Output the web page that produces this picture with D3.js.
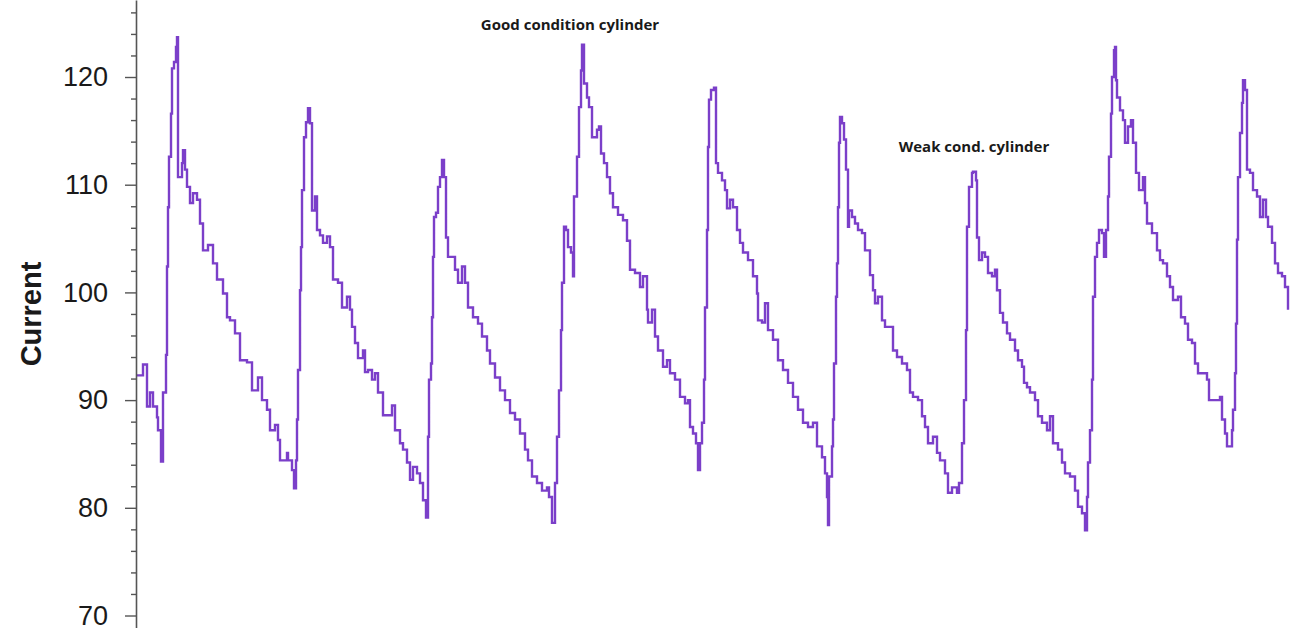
<!DOCTYPE html>
<html>
<head>
<meta charset="utf-8">
<script src="https://cdn.jsdelivr.net/npm/d3@7"></script>
<style>
  html, body { margin: 0; padding: 0; background: #fff; }
  svg { display: block; }
</style>
</head>
<body>
<svg id="chart" width="1293" height="628"></svg>
<script>
// Motor current trace over eight compression strokes (sample index vs current)
const sampleIndex = [
  0, 6, 10, 13, 16, 20, 21, 24, 26, 29, 30, 31, 32, 34, 35, 37, 39, 40, 41, 41,
  45, 46, 48, 50, 53, 56, 60, 63, 66, 71, 76, 80, 86, 90, 93, 98, 103, 110, 115, 121,
  125, 130, 133, 138, 141, 143, 150, 151, 155, 157, 159, 160, 161, 163, 164, 165, 167, 169, 171, 173,
  175, 175, 178, 180, 183, 186, 190, 193, 196, 201, 205, 210, 213, 215, 218, 221, 226, 228, 231, 235,
  238, 241, 246, 255, 258, 263, 266, 270, 273, 276, 280, 283, 286, 289, 291, 292, 294, 295, 296, 297,
  299, 301, 303, 305, 307, 309, 311, 315, 318, 321, 325, 328, 331, 336, 341, 345, 350, 353, 358, 363,
  368, 373, 378, 383, 388, 391, 395, 400, 405, 410, 412, 415, 418, 420, 422, 424, 425, 427, 429, 431,
  434, 436, 437, 440, 442, 444, 445, 447, 450, 452, 455, 460, 462, 464, 467, 470, 473, 476, 481, 486,
  490, 493, 498, 503, 506, 510, 511, 515, 518, 521, 526, 530, 533, 538, 543, 548, 551, 553, 556, 559,
  561, 563, 565, 567, 568, 570, 571, 572, 574, 577, 579, 581, 585, 588, 590, 593, 596, 600, 603, 606,
  611, 616, 620, 621, 625, 628, 631, 636, 641, 646, 651, 656, 661, 666, 671, 676, 680, 685, 688, 690,
  691, 692, 695, 696, 697, 699, 700, 701, 702, 703, 705, 707, 709, 711, 712, 715, 718, 721, 725, 728,
  733, 736, 738, 741, 745, 748, 753, 756, 760, 765, 770, 773, 776, 781, 785, 788, 791, 796, 800, 803,
  808, 811, 815, 820, 822, 825, 827, 829, 830, 832, 835, 836, 839, 840, 842, 845, 848, 851, 855, 858,
  860, 863, 866, 870, 873, 878, 881, 885, 887, 890, 893, 898, 901, 905, 910, 913, 916, 921, 925, 928,
  933, 938, 941, 945, 948, 950, 951, 953, 955, 956, 958, 960, 962, 965, 967, 969, 971, 972, 974, 975,
  977, 978, 979, 980, 983, 986, 988, 991, 994, 996, 999, 1002, 1006, 1008, 1010, 1015, 1018, 1020, 1023, 1026,
  1030, 1033, 1036, 1041, 1044, 1048, 1051, 1055, 1058, 1061, 1066, 1070, 1072, 1078, 1083, 1085, 1088, 1090, 1093, 1095,
  1096, 1098, 1099, 1100, 1101, 1103, 1105, 1106, 1108, 1110, 1110, 1113, 1116, 1120, 1123, 1126, 1129, 1131, 1135, 1138,
  1141, 1145, 1148, 1151
];

const current = [
  92.3, 93.3, 89.4, 90.7, 89.4, 88.4, 87.2, 84.3, 90.7, 94.2, 102.4, 107.9, 112.6, 116.6, 120.8, 121.4, 122.8, 123.7, 119.4, 110.7,
  112.0, 113.2, 111.4, 109.8, 108.3, 109.2, 108.6, 106.4, 103.9, 104.4, 102.7, 101.2, 99.9, 97.7, 97.4, 96.2, 93.7, 93.5, 90.9, 92.1,
  90.0, 89.1, 87.2, 87.7, 86.3, 84.4, 85.1, 84.4, 83.5, 81.8, 84.4, 88.2, 92.8, 100.2, 104.2, 109.5, 114.4, 115.8, 117.1, 115.7,
  112.6, 107.6, 108.9, 105.8, 105.3, 104.6, 105.2, 104.2, 101.2, 100.9, 98.6, 99.6, 98.4, 96.8, 95.3, 93.9, 94.6, 92.6, 92.8, 91.9,
  92.5, 90.7, 88.6, 89.5, 87.2, 86.0, 85.4, 84.2, 82.6, 83.8, 83.2, 82.3, 80.7, 79.1, 86.6, 91.9, 93.4, 97.7, 103.3, 107.0,
  107.4, 109.8, 110.7, 112.3, 110.7, 105.1, 103.3, 103.3, 102.1, 100.9, 102.4, 100.9, 98.6, 97.7, 97.1, 95.9, 94.6, 93.4, 92.1, 90.9,
  90.0, 88.8, 88.2, 86.9, 85.4, 84.4, 82.9, 82.3, 81.6, 81.9, 81.0, 78.6, 82.3, 86.6, 90.9, 96.5, 100.9, 106.1, 105.8, 104.2,
  103.7, 101.5, 108.9, 112.6, 117.2, 120.6, 123.0, 119.4, 118.1, 117.2, 114.4, 115.1, 115.4, 112.9, 112.0, 110.7, 109.2, 107.9, 107.2, 106.7,
  104.8, 102.1, 101.8, 100.5, 101.5, 98.4, 97.2, 98.4, 95.9, 94.6, 93.1, 93.7, 92.5, 91.9, 90.3, 89.7, 90.0, 87.5, 86.9, 86.0,
  83.5, 86.0, 87.9, 91.9, 98.6, 105.8, 113.5, 117.9, 118.8, 119.0, 112.0, 111.1, 110.4, 109.5, 107.8, 108.6, 107.9, 105.8, 104.6, 103.7,
  103.0, 101.5, 99.9, 97.4, 97.2, 99.0, 96.5, 95.6, 93.7, 92.8, 91.6, 90.3, 89.1, 87.9, 87.5, 87.9, 85.7, 84.7, 83.2, 81.0,
  78.4, 82.9, 85.7, 88.2, 93.4, 99.6, 102.7, 107.9, 113.9, 116.3, 115.7, 114.2, 111.4, 106.1, 107.6, 107.0, 106.4, 105.8, 105.5, 103.9,
  101.6, 100.2, 99.0, 99.6, 97.4, 96.8, 96.8, 94.6, 94.0, 93.4, 92.8, 90.7, 90.3, 90.0, 88.5, 87.5, 86.0, 86.6, 85.1, 84.4,
  83.2, 81.4, 81.9, 81.4, 82.3, 86.0, 90.0, 96.5, 106.1, 109.8, 111.1, 111.2, 110.4, 105.1, 103.0, 103.7, 103.3, 101.8, 101.5, 102.1,
  100.2, 98.1, 97.2, 96.2, 95.6, 94.6, 93.7, 93.1, 91.6, 91.2, 90.7, 90.0, 88.5, 87.9, 87.2, 88.5, 86.0, 85.4, 84.2, 83.2,
  82.9, 81.6, 80.1, 79.5, 77.9, 81.0, 84.2, 87.2, 91.9, 99.6, 103.3, 104.6, 105.8, 105.5, 103.3, 105.8, 108.9, 112.6, 116.6, 120.0,
  122.5, 122.8, 119.7, 118.1, 116.9, 116.0, 113.9, 115.4, 116.0, 113.9, 111.1, 109.5, 110.7, 108.3, 106.4, 105.5, 105.5, 103.9, 103.0, 102.7,
  101.5, 100.5, 99.3, 99.6, 97.7, 97.1, 95.6, 95.3, 93.4, 92.5, 92.5, 91.9, 90.0, 90.0, 90.3, 88.2, 86.9, 85.7, 85.7, 87.2,
  89.1, 92.5, 97.1, 104.9, 110.7, 114.8, 117.6, 119.7, 118.8, 116.3, 111.4, 111.1, 109.5, 108.9, 107.0, 108.6, 107.0, 106.1, 104.6, 102.7,
  101.8, 101.5, 100.5, 98.4
];

const majorTicks = [70, 80, 90, 100, 110, 120];
const minorTicks = [72, 74, 76, 78, 82, 84, 86, 88, 92, 94, 96, 98, 102, 104, 106, 108, 112, 114, 116, 118, 122, 124, 126];

const annotationText = ["Good condition cylinder", "Weak cond. cylinder"];
const annotationAt = [[433, 124.35], [837, 113.05]]; // [sample index, current] at the label baseline centre

const yTitle = "Current";

const width = 1293, height = 628;
const axisX = 136;

const svg = d3.select("#chart");

const x = d3.scaleLinear().domain([0, 1156]).range([axisX + 1, width]);
const y = d3.scaleLinear().domain([68.84, 127.15]).range([height, 0]);

const data = sampleIndex.map((s, i) => ({ s, v: current[i] }));

// trace
const line = d3.line()
  .x(d => x(d.s))
  .y(d => y(d.v))
  .curve(d3.curveStepAfter);

svg.append("path")
  .datum(data)
  .attr("fill", "none")
  .attr("stroke", "#7b3fc9")
  .attr("stroke-width", 2.4)
  .attr("stroke-linejoin", "miter")
  .attr("d", line);

// minor ticks
const minorAxis = d3.axisLeft(y)
  .tickValues(minorTicks)
  .tickSize(5)
  .tickSizeOuter(0)
  .tickFormat("");

const gMinor = svg.append("g")
  .attr("transform", `translate(${axisX},0)`)
  .call(minorAxis);
gMinor.select(".domain").remove();
gMinor.selectAll("line").attr("stroke", "#555").attr("stroke-width", 1.4);

// major ticks with labels
const majorAxis = d3.axisLeft(y)
  .tickValues(majorTicks)
  .tickSize(11)
  .tickSizeOuter(0)
  .tickPadding(17)
  .tickFormat(d3.format("d"));

const gMajor = svg.append("g")
  .attr("transform", `translate(${axisX},0)`)
  .call(majorAxis);
gMajor.select(".domain").attr("stroke", "#555").attr("stroke-width", 1.6);
gMajor.selectAll("line").attr("stroke", "#555").attr("stroke-width", 1.4);
gMajor.selectAll("text")
  .attr("font-family", "Liberation Sans, Arial, sans-serif")
  .attr("font-size", 27)
  .attr("fill", "#1a1a1a");

// axis title
svg.append("text")
  .attr("transform", "translate(41,314) rotate(-90)")
  .attr("text-anchor", "middle")
  .attr("font-family", "Liberation Sans, Arial, sans-serif")
  .attr("font-weight", "bold")
  .attr("font-size", 29)
  .attr("fill", "#1a1a1a")
  .text(yTitle);

// annotations
svg.selectAll("text.note")
  .data(annotationText)
  .join("text")
  .attr("class", "note")
  .attr("x", (d, i) => x(annotationAt[i][0]))
  .attr("y", (d, i) => y(annotationAt[i][1]))
  .attr("text-anchor", "middle")
  .attr("font-family", "Open Sans, Lato, sans-serif")
  .attr("font-weight", "bold")
  .attr("font-size", 15)
  .attr("fill", "#1a1a1a")
  .text(d => d);
</script>
</body>
</html>
